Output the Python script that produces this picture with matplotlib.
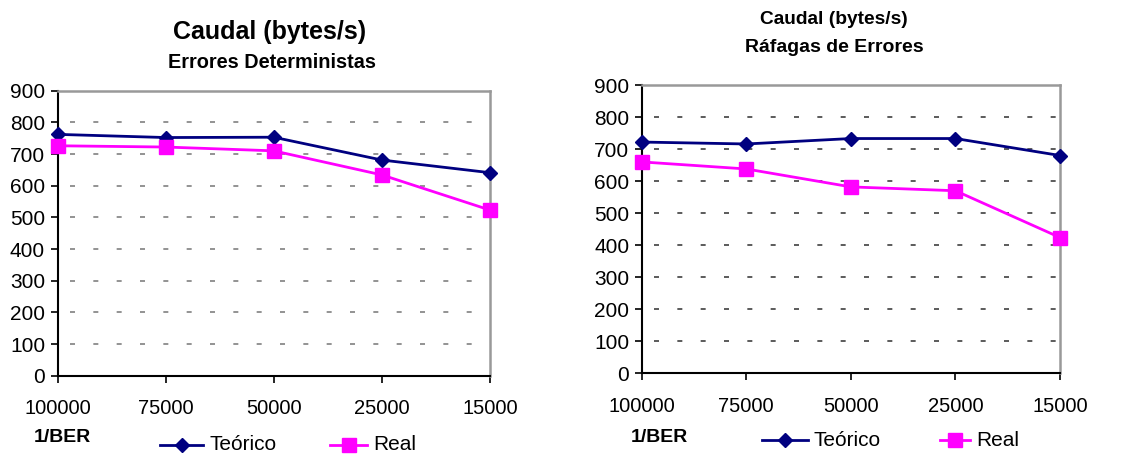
import matplotlib
matplotlib.use("Agg")
import matplotlib.pyplot as plt
from matplotlib.lines import Line2D

plt.rcParams['font.family'] = ['Liberation Sans', 'DejaVu Sans']

ber_labels = ["100000", "75000", "50000", "25000", "15000"]
y_ticks = [0, 100, 200, 300, 400, 500, 600, 700, 800, 900]

det_teorico = [762, 752, 753, 681, 641]
det_real = [726, 722, 710, 634, 523]

raf_teorico = [722, 716, 733, 733, 680]
raf_real = [660, 638, 582, 570, 424]

NAVY = "#000080"
MAGENTA = "#FF00FF"

fig = plt.figure(figsize=(11.41, 4.54), dpi=100)


def draw_panel(rect, teorico, real, grid_color):
    ax = fig.add_axes(rect)
    x = list(range(len(ber_labels)))
    ax.plot(x, teorico, color=NAVY, lw=2, marker="D", ms=7.5, mfc=NAVY, mec=NAVY,
            zorder=3, clip_on=False)
    ax.plot(x, real, color=MAGENTA, lw=2, marker="s", ms=10, mfc=MAGENTA, mec=MAGENTA,
            zorder=3, clip_on=False)
    ax.set_xlim(0, len(ber_labels) - 1)
    ax.set_ylim(0, 900)
    ax.set_yticks(y_ticks)
    ax.set_yticklabels([str(v) for v in y_ticks], fontsize=15)
    ax.set_xticks(x)
    ax.set_xticklabels(ber_labels, fontsize=14.5)
    ax.tick_params(axis="both", direction="out", length=5, width=1.2, color="black")
    ax.tick_params(axis="x", pad=12)
    ax.tick_params(axis="y", pad=4)
    for s in ("left", "bottom"):
        ax.spines[s].set_color("black")
        ax.spines[s].set_linewidth(1.5)
    for s in ("top", "right"):
        ax.spines[s].set_color("#999999")
        ax.spines[s].set_linewidth(1.8)
    for v in y_ticks[1:-1]:
        ax.axhline(v, xmin=0.03, xmax=0.99, color=grid_color, lw=1.2,
                   linestyle=(0, (3, 11)), zorder=1)
    return ax


draw_panel([0.0504, 0.1725, 0.379, 0.6278], det_teorico, det_real, "#808080")
draw_panel([0.5624, 0.1777, 0.3666, 0.635], raf_teorico, raf_real, "#404040")

# titles
fig.text(270 / 1141, 1 - 32 / 454, "Caudal (bytes/s)", fontsize=18, fontweight="bold",
         ha="center", va="center")
fig.text(272 / 1141, 1 - 63 / 454, "Errores Deterministas", fontsize=14.3, fontweight="bold",
         ha="center", va="center")
fig.text(834 / 1141, 1 - 19 / 454, "Caudal (bytes/s)", fontsize=13.8, fontweight="bold",
         ha="center", va="center")
fig.text(834 / 1141, 1 - 47 / 454, "Ráfagas de Errores", fontsize=14, fontweight="bold",
         ha="center", va="center")

# x-axis names
fig.text(62 / 1141, 1 - 437 / 454, "1/BER", fontsize=14, fontweight="bold",
         ha="center", va="center")
fig.text(659 / 1141, 1 - 437 / 454, "1/BER", fontsize=14, fontweight="bold",
         ha="center", va="center")


def legend_entry(x0, x1, y, color, marker, ms, label):
    fy = 1 - y / 454
    fig.add_artist(Line2D([x0 / 1141, x1 / 1141], [fy, fy], color=color, lw=2,
                          transform=fig.transFigure))
    fig.add_artist(Line2D([(x0 + x1) / 2 / 1141], [fy], color=color, marker=marker, ms=ms,
                          mfc=color, mec=color, transform=fig.transFigure))
    fig.text((x1 + 6) / 1141, fy, label, fontsize=15, ha="left", va="center")


legend_entry(160, 203, 445, NAVY, "D", 7.5, "Teórico")
legend_entry(330, 367, 445, MAGENTA, "s", 10, "Real")
legend_entry(762, 808, 440, NAVY, "D", 7.5, "Teórico")
legend_entry(940, 970, 440, MAGENTA, "s", 10, "Real")

fig.savefig("out.png", dpi=100)
